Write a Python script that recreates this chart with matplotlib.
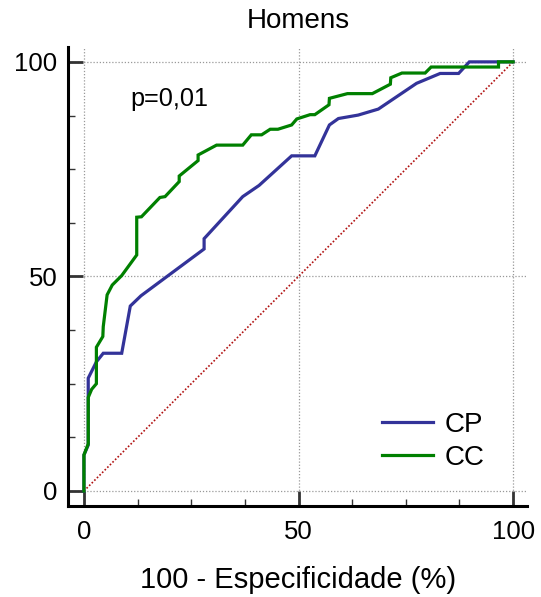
import matplotlib
matplotlib.use("Agg")
import matplotlib.pyplot as plt
from matplotlib.ticker import MultipleLocator

plt.rcParams['font.family'] = ['Liberation Sans', 'DejaVu Sans']

# ROC curves (100 - specificity, sensitivity)
cp_x = [0, 0, 1.0, 1.0, 2.9, 4.5, 8.8, 10.8, 13.3, 28.0, 28.0, 37.0, 40.8,
        48.4, 53.8, 57.2, 59.3, 63.9, 68.6, 77.5, 83.0, 87.3, 89.8, 100]
cp_y = [0, 8.4, 10.7, 26.3, 30.1, 32.1, 32.1, 43.1, 45.5, 56.4, 58.8, 68.6, 71.2,
        78.1, 78.1, 85.3, 86.8, 87.6, 89.0, 95.0, 97.3, 97.3, 100, 100]

cc_x = [0, 0, 1.0, 1.0, 1.8, 2.9, 2.9, 4.4, 4.5, 5.4, 6.6, 8.8, 12.3, 12.3, 13.4,
        17.7, 18.9, 22.2, 22.2, 26.6, 26.6, 30.9, 37.0, 39.0, 41.4, 43.4, 45.2,
        48.4, 49.6, 52.7, 53.8, 57.1, 57.2, 61.4, 67.2, 71.4, 71.5, 74.1, 79.5,
        80.9, 96.6, 96.6, 100]
cc_y = [0, 8.4, 11.0, 21.8, 23.7, 25.0, 33.5, 36.0, 38.3, 45.7, 48.0, 50.2, 55.0, 63.8, 63.9,
        68.4, 68.6, 72.1, 73.4, 77.0, 78.3, 80.6, 80.6, 83.0, 83.0, 84.3, 84.3,
        85.3, 86.7, 87.7, 87.7, 90.0, 91.5, 92.6, 92.6, 94.8, 96.3, 97.4, 97.4,
        98.8, 98.8, 100, 100]

ref_line = [0, 100]
major_ticks = [0, 50, 100]
tick_labels = ['0', '50', '100']

fig = plt.figure(figsize=(5.41, 5.97), dpi=100)
ax = fig.add_axes([0.1266, 0.1524, 0.848, 0.7684])

ax.plot(ref_line, ref_line, color='#b01010', lw=1.2, ls=(0, (1, 1.2)), zorder=2)
ax.plot(cp_x, cp_y, color='#333399', lw=2.3, label='CP', zorder=3, solid_joinstyle='miter')
ax.plot(cc_x, cc_y, color='#008000', lw=2.3, label='CC', zorder=4, solid_joinstyle='miter')

ax.set_xlim(-3.6, 103.3)
ax.set_ylim(-3.5, 103.4)

for s in ['top', 'right']:
    ax.spines[s].set_visible(False)
for s in ['left', 'bottom']:
    ax.spines[s].set_linewidth(2.2)
    ax.spines[s].set_color('black')

ax.set_xticks(major_ticks)
ax.set_xticklabels(tick_labels)
ax.set_yticks(major_ticks)
ax.set_yticklabels(tick_labels)
ax.xaxis.set_minor_locator(MultipleLocator(12.5))
ax.yaxis.set_minor_locator(MultipleLocator(12.5))
ax.tick_params(which='major', direction='in', length=11, width=2, color='#333333',
               labelsize=18.5)
ax.tick_params(axis='y', which='major', pad=8)
ax.tick_params(axis='x', which='major', pad=10)
ax.tick_params(which='minor', direction='in', length=5, width=1, color='#333333')

ax.grid(True, which='major', color='#999999', lw=0.9, ls=(0, (1, 1.5)))
ax.set_axisbelow(True)

ax.set_title('Homens', fontsize=20, pad=14)
ax.set_xlabel('100 - Especificidade (%)', fontsize=21, labelpad=16)
ax.text(10.7, 89.8, 'p=0,01', fontsize=18.2, va='baseline')

ax.legend(loc='upper left', bbox_to_anchor=(69.4, 18.5), bbox_transform=ax.transData,
          frameon=False, fontsize=20, handlelength=1.83, handletextpad=0.45,
          labelspacing=0.25, borderpad=0, borderaxespad=0)

fig.savefig('out.png', dpi=100)
